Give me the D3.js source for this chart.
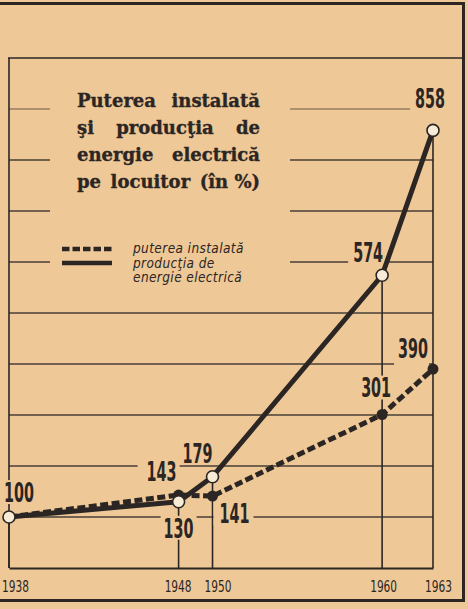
<!DOCTYPE html>
<html>
<head>
<meta charset="utf-8">
<script src="https://cdn.jsdelivr.net/npm/d3@7"></script>
<style>
	body { margin: 0; background: #efc897; }
	svg { display: block; }
</style>
</head>
<body>
<div id="chart"></div>
<script>
// values
const years = [1938, 1948, 1950, 1960, 1963];
const putere = [100, 143, 141, 301, 390];      // puterea instalata (dashed)
const productie = [100, 130, 179, 574, 858];   // productia de energie (solid)
const gridValues = [100, 200, 300, 400, 500, 600, 700, 800, 900];
const titleLines = [
	["Puterea", "instalată"],
	["şi", "producţia", "de"],
	["energie", "electrică"],
	["pe", "locuitor", "(în %)"]
];
const legendLabels = ["puterea instalată", "producţia de", "energie electrică"];

const paper = "#efc897";
const ink = "#2b2624";

var W = 468, H = 609;
var svg = d3.select("#chart").append("svg")
	.attr("width", W)
	.attr("height", H);

svg.append("rect")
	.attr("width", W)
	.attr("height", H)
	.attr("fill", paper);

var x = d3.scaleLinear()
	.domain([1938, 1963])
	.range([9, 433]);
var y = d3.scaleLinear()
	.domain([0, 1000])
	.range([568, 58]);

// outer frame (thick)
svg.append("path")
	.attr("d", "M0,3.5H463.5V600.5H0")
	.attr("fill", "none")
	.attr("stroke", ink)
	.attr("stroke-width", 3);

// inner frame: top + left
svg.append("line")
	.attr("x1", 8).attr("x2", 463)
	.attr("y1", y(1000)).attr("y2", y(1000))
	.attr("stroke", ink).attr("stroke-width", 1.6);
svg.append("line")
	.attr("x1", x(1938)).attr("x2", x(1938))
	.attr("y1", y(1000)).attr("y2", y(0))
	.attr("stroke", ink).attr("stroke-width", 1.6);

// gridlines
svg.append("g").selectAll("line")
	.data(gridValues)
	.enter()
	.append("line")
	.attr("x1", x(1938))
	.attr("x2", x(1963))
	.attr("y1", function(d) { return y(d); })
	.attr("y2", function(d) { return y(d); })
	.attr("stroke", ink)
	.attr("stroke-opacity", function(d) { return d == 900 ? 0.45 : 0.85; })
	.attr("stroke-width", 1.5);

// drop lines from the highest point of each year
svg.append("g").selectAll("line")
	.data(years)
	.enter()
	.append("line")
	.attr("x1", function(d) { return x(d); })
	.attr("x2", function(d) { return x(d); })
	.attr("y1", function(d, i) { return y(Math.max(putere[i], productie[i])); })
	.attr("y2", y(0))
	.attr("stroke", ink)
	.attr("stroke-width", 1.6);

// baseline + year labels
var xAxis = d3.axisBottom(x)
	.tickValues(years)
	.tickFormat(d3.format("d"))
	.tickSize(0)
	.tickPadding(13);
var axisG = svg.append("g")
	.attr("transform", "translate(0," + y(0) + ")")
	.call(xAxis);
axisG.select(".domain")
	.attr("stroke", ink)
	.attr("stroke-width", 2.2);
var yearShift = {1938: 6, 1948: -1, 1950: 5, 1960: 1, 1963: 5};
axisG.selectAll("text")
	.attr("fill", ink)
	.attr("font-family", "'DejaVu Sans Condensed', sans-serif")
	.attr("font-size", 15.5)
	.attr("transform", function(d) { return "translate(" + yearShift[d] + ",0) scale(0.76,1)"; });

// title block: blank the gridlines behind it
svg.append("rect")
	.attr("x", 50).attr("y", 95)
	.attr("width", 240).attr("height", 195)
	.attr("fill", paper);

var titleG = svg.append("g")
	.attr("font-family", "'DejaVu Serif', serif")
	.attr("font-weight", "bold")
	.attr("font-size", 18)
	.attr("fill", ink)
	.attr("stroke", ink)
	.attr("stroke-width", 0.35);
var tLeft = 77, tRight = 260;
titleLines.forEach(function(words, li) {
	var base = 107 + li * 27;
	var nodes = words.map(function(w) {
		return titleG.append("text").attr("y", base).text(w);
	});
	var widths = nodes.map(function(n) { return n.node().getComputedTextLength(); });
	var gap = (tRight - tLeft - d3.sum(widths)) / (words.length - 1);
	var cx = tLeft;
	nodes.forEach(function(n, i) {
		n.attr("x", cx);
		cx += widths[i] + gap;
	});
});

// legend
svg.append("line")
	.attr("x1", 62).attr("x2", 112)
	.attr("y1", 249).attr("y2", 249)
	.attr("stroke", ink).attr("stroke-width", 4.5)
	.attr("stroke-dasharray", "7.5,3");
svg.append("line")
	.attr("x1", 62).attr("x2", 112)
	.attr("y1", 263).attr("y2", 263)
	.attr("stroke", ink).attr("stroke-width", 4.5);
svg.append("g").selectAll("text")
	.data(legendLabels)
	.enter()
	.append("text")
	.attr("x", 133)
	.attr("y", function(d, i) { return 253 + i * 14.5; })
	.attr("font-family", "'DejaVu Sans Condensed', sans-serif")
	.attr("font-style", "italic")
	.attr("font-size", 13.5)
	.attr("letter-spacing", 0.4)
	.attr("fill", ink)
	.text(function(d) { return d; });

// value labels next to the points: [dx, dy, anchor, padLeft, padRight, padBottom]
var prodLabelPos = [[-5, -15, "start", 3, 3, 2], [0, 36, "middle", 3, 3, 2], [0, -14, "end", 2, 2, 1], [1, -13, "end", 5, 3, 2], [-3, -22, "middle", 5, 3, 3]];
var putLabelPos = [null, [-2, -14, "end", 9, 3, 2], [7, 27, "start", 6, 4, 2], [-6, -17, "middle", 3, 3, 2], [-5, -11, "end", 4, 1, 7]];

var labelFont = "'DejaVu Sans Condensed', sans-serif";
var labelSize = 21, labelSx = 0.76, labelSy = 1.3;
var capH = 0.73 * labelSize * labelSy;
var labelG = svg.append("g");

function addLabels(values, pos) {
	values.forEach(function(v, i) {
		var p = pos[i];
		if (!p) return;
		var lx = x(years[i]) + p[0];
		var ly = y(v) + p[1];
		var bg = labelG.append("rect").attr("fill", paper);
		var t = labelG.append("text")
			.attr("transform", "translate(" + lx + "," + ly + ") scale(" + labelSx + "," + labelSy + ")")
			.attr("text-anchor", p[2])
			.attr("font-family", labelFont)
			.attr("font-weight", "bold")
			.attr("font-size", labelSize)
			.attr("fill", ink)
			.text(v);
		var bb = t.node().getBBox();
		bg.attr("x", lx + bb.x * labelSx - p[3])
			.attr("width", bb.width * labelSx + p[3] + p[4])
			.attr("y", ly - capH - 2)
			.attr("height", capH + 2 + p[5]);
	});
}
addLabels(productie, prodLabelPos);
addLabels(putere, putLabelPos);

// series lines
var line = d3.line()
	.x(function(d, i) { return x(years[i]); })
	.y(function(d) { return y(d); });

svg.append("path")
	.datum(putere)
	.attr("d", line)
	.attr("fill", "none")
	.attr("stroke", ink)
	.attr("stroke-width", 5)
	.attr("stroke-dasharray", "8,3.5");

svg.append("path")
	.datum(productie)
	.attr("d", line)
	.attr("fill", "none")
	.attr("stroke", ink)
	.attr("stroke-width", 5)
	.attr("stroke-linejoin", "round");

// points: filled for putere, open for productie
svg.append("g").selectAll("circle")
	.data(putere.slice(1))
	.enter()
	.append("circle")
	.attr("cx", function(d, i) { return x(years[i + 1]); })
	.attr("cy", function(d) { return y(d); })
	.attr("r", 5.5)
	.attr("fill", ink);

svg.append("g").selectAll("circle")
	.data(productie)
	.enter()
	.append("circle")
	.attr("cx", function(d, i) { return x(years[i]); })
	.attr("cy", function(d) { return y(d); })
	.attr("r", 6)
	.attr("fill", "#f8ecd6")
	.attr("stroke", ink)
	.attr("stroke-width", 1.6);
</script>
</body>
</html>
